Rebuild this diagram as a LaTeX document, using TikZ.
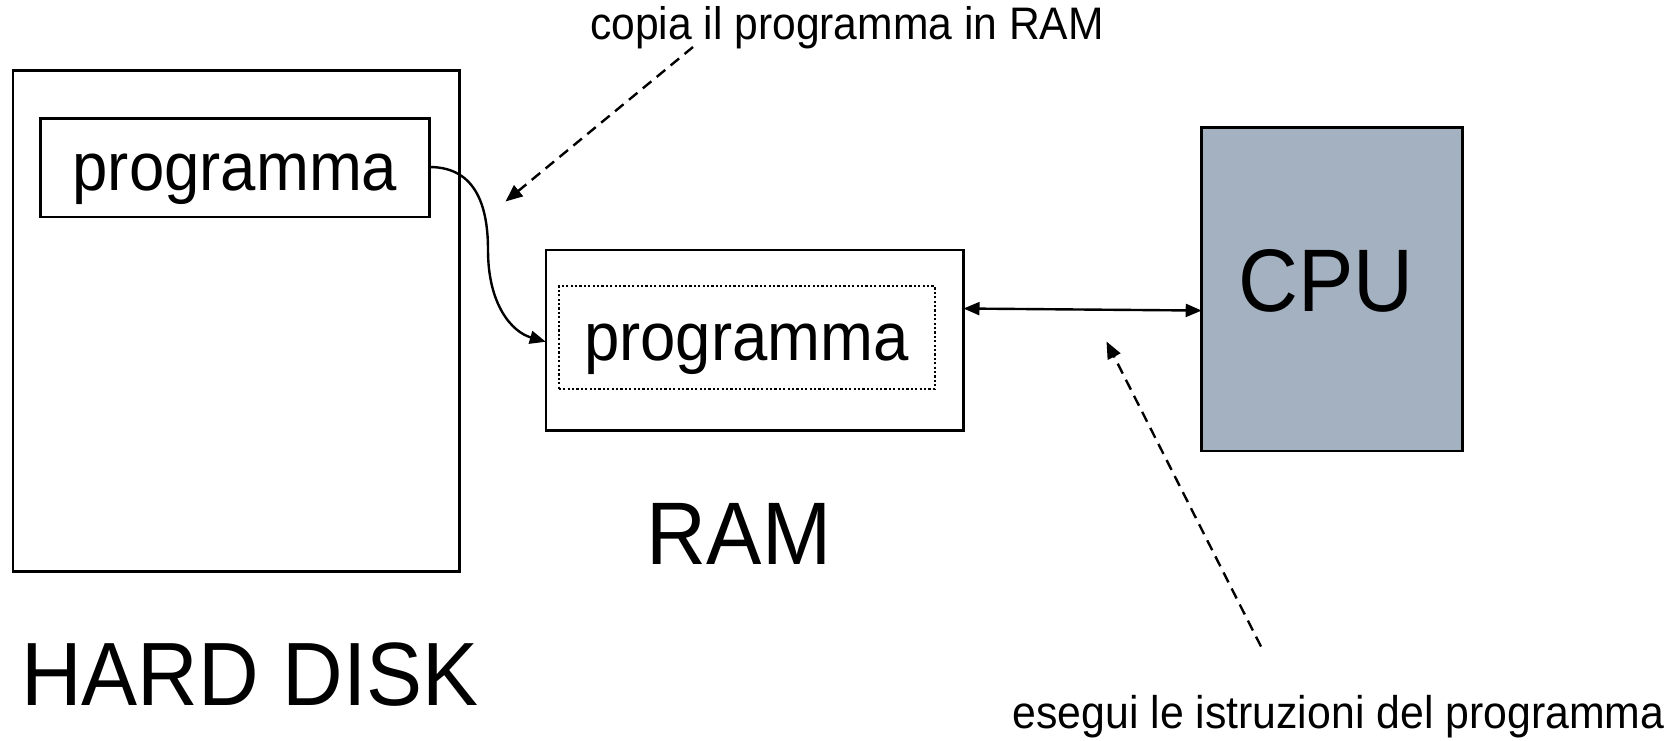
\documentclass[tikz,border=0pt]{standalone}
\usepackage{fontspec}
\setmainfont{Liberation Sans}
\usetikzlibrary{arrows.meta}
\definecolor{cpufill}{HTML}{A3B1C1}
\newcommand{\tallt}[1]{\scalebox{1}[1.07]{#1}}
\tikzset{
  box/.style={draw=black, line width=2.6pt, inner sep=0pt, outer sep=0pt},
  dotbox/.style={draw=black, line width=2pt, dash pattern=on 2.2pt off 2.2pt, inner sep=0pt, outer sep=0pt},
  conn/.style={line width=2.4pt, -{Triangle[length=16pt,width=13pt]}},
  dconn/.style={line width=2.4pt, {Triangle[length=16pt,width=13pt]}-{Triangle[length=16pt,width=13pt]}},
  dashconn/.style={line width=2.4pt, dash pattern=on 11pt off 7pt, -{Triangle[length=17pt,width=14pt]}},
  lbl/.style={inner sep=0pt, outer sep=0pt, anchor=base},
}
\begin{document}
\begin{tikzpicture}[x=1pt,y=-1pt]
\useasboundingbox (0,0) rectangle (1675,740);
% boxes
\node[box, minimum width=446.5pt, minimum height=501pt] (hd) at (236.05,321) {};
\node[box, minimum width=388.8pt, minimum height=98.2pt] (hdprog) at (235,167.7) {};
\node[box, minimum width=417.7pt, minimum height=180.5pt] (ram) at (754.65,340.25) {};
\node[dotbox, minimum width=376pt, minimum height=102.5pt] (ramprog) at (746.7,337.55) {};
\node[box, fill=cpufill, minimum width=260.7pt, minimum height=323.5pt] (cpu) at (1332.05,289.05) {};
% texts
\node[lbl, font=\fontsize{63.5}{70}\selectfont] (t1) at (235,190) {\tallt{programma}};
\node[lbl, font=\fontsize{63.5}{70}\selectfont] (t2) at (746.5,360) {\tallt{programma}};
\node[lbl, font=\fontsize{83}{90}\selectfont] (tram) at (739,564) {\tallt{RAM}};
\node[lbl, font=\fontsize{84}{90}\selectfont] (thd) at (250,705) {\tallt{HARD DISK}};
\node[lbl, font=\fontsize{83}{90}\selectfont] (tcpu) at (1326,311) {\tallt{CPU}};
\node[lbl, font=\fontsize{42.6}{48}\selectfont] (tcopy) at (847,39.3) {\tallt{copia il programma in RAM}};
\node[lbl, font=\fontsize{42.8}{48}\selectfont] (texec) at (1338.5,728.5) {\tallt{esegui le istruzioni del programma}};
% connectors
\coordinate (c1s) at (693,47);
\coordinate (c1e) at (505.5,201.5);
\draw[dashconn] (c1s) -- (c1e);
\coordinate (c2s) at (1261,646.5);
\coordinate (c2e) at (1106.5,341.5);
\draw[dashconn] (c2s) -- (c2e);
\draw[conn] ([yshift=0.7pt]hdprog.east) .. controls (478,167) and (488,210) .. (488,250)
   .. controls (488,305) and (512,332) .. ([yshift=-1.5pt]ram.west);
\draw[dconn] ([yshift=31.75pt]ram.east) -- ([yshift=-21.5pt]cpu.west);
\end{tikzpicture}
\end{document}
